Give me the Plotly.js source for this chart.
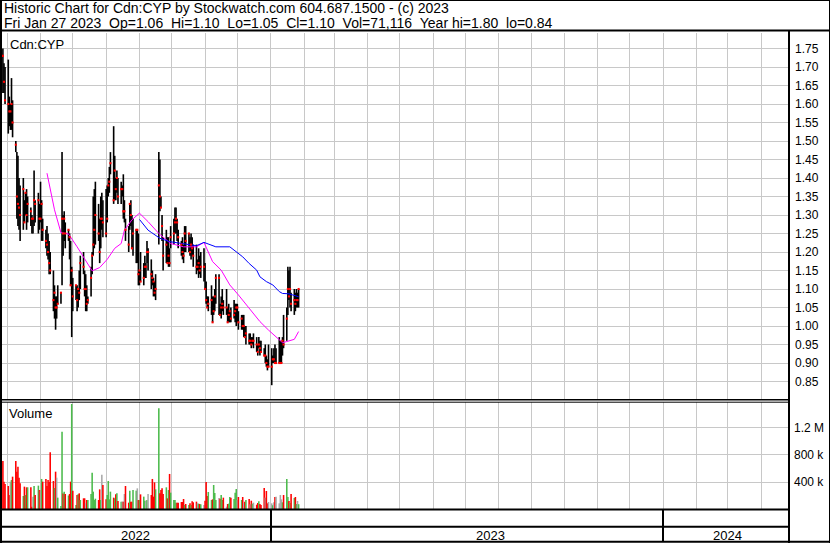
<!DOCTYPE html>
<html>
<head>
<meta charset="utf-8">
<script src="https://cdn.plot.ly/plotly-3.0.1.min.js"></script>
<style>
  html, body { margin: 0; padding: 0; background: #ffffff; }
  #chart { width: 830px; height: 543px; }
</style>
</head>
<body>
<div id="chart"></div>
<script>
// ---------- DATA ----------
const firstTradingDay = '2022-04-27';   // first bar shown (daily bars, weekdays)

const highs = [
  1.75,1.71,1.70,1.72,1.62,1.60,1.67,1.61,1.50,1.47,1.46,1.40,1.38,1.40,1.34,1.36,1.37,1.35,1.32,1.30,
  1.29,1.42,1.34,1.36,1.33,1.39,1.34,1.29,1.26,1.27,1.25,1.23,1.20,1.15,1.11,1.08,1.08,1.11,1.09,1.47,
  1.30,1.31,1.28,1.26,1.25,1.23,1.16,1.13,1.11,1.11,1.10,1.15,1.19,1.20,1.15,1.14,1.11,1.08,1.16,1.20,
  1.35,1.37,1.39,1.33,
  1.29,1.35,1.36,1.34,1.37,1.38,1.40,1.43,1.47,1.54,1.46,1.40,1.42,1.40,1.39,1.38,1.41,1.34,1.29,1.27,
  1.33,1.34,1.30,1.29,1.26,1.26,1.25,1.15,1.20,1.17,1.19,1.17,1.23,1.21,1.18,1.15,1.13,1.12,1.14,1.47,
  1.45,1.35,1.30,1.24,1.26,1.24,1.24,1.21,1.27,1.29,1.32,1.32,1.29,1.26,1.23,1.24,1.22,1.27,1.27,1.25,
  1.24,1.25,1.24,1.22,1.22,1.18,1.21,1.19,1.20,
  1.21,1.17,1.12,1.08,1.08,1.11,1.08,1.08,1.10,1.14,1.14,1.06,1.08,1.10,1.07,1.10,1.05,1.06,1.04,1.05,
  1.07,1.06,1.06,1.06,1.04,1.03,1.03,1.03,1.00,1.00,0.98,0.98,0.97,0.97,0.98,0.97,0.95,0.97,0.96,0.96,
  0.94,0.95,0.92,0.91,0.95,0.94,0.92,0.94,0.95,0.94,0.97,0.96,0.96,0.97,1.03,1.05,
  1.16,1.15,1.16,1.09,1.10,1.09,1.10,1.09,1.10
];
const lows = [
  1.63,1.63,1.60,1.52,1.54,1.53,1.53,1.51,1.47,1.29,1.27,1.26,1.23,1.26,1.28,1.30,1.26,1.28,1.27,1.25,
  1.25,1.27,1.28,1.25,1.26,1.28,1.23,1.23,1.21,1.19,1.18,1.14,1.14,1.04,1.02,0.99,1.02,1.06,1.06,1.11,
  1.19,1.23,1.21,1.23,1.18,1.11,0.97,1.04,1.07,1.04,1.05,1.07,1.10,1.14,1.08,1.04,1.04,1.06,1.08,1.14,
  1.19,1.21,1.22,1.23,
  1.17,1.21,1.26,1.24,1.24,1.28,1.35,1.36,1.41,1.33,1.34,1.34,1.36,1.33,1.33,1.35,1.29,1.28,1.23,1.20,
  1.26,1.27,1.21,1.19,1.17,1.17,1.11,1.11,1.12,1.11,1.13,1.13,1.17,1.15,1.10,1.11,1.08,1.08,1.07,1.22,
  1.31,1.32,1.23,1.15,1.17,1.17,1.16,1.16,1.21,1.22,1.25,1.25,1.23,1.21,1.19,1.18,1.17,1.20,1.20,1.20,
  1.19,1.18,1.19,1.16,1.14,1.15,1.13,1.14,1.13,
  1.12,1.10,1.06,1.05,1.04,1.03,1.01,1.03,1.04,1.06,1.03,1.03,1.02,1.04,1.03,1.03,1.01,1.01,1.01,1.01,
  1.02,1.01,1.00,1.01,0.99,0.99,0.99,0.97,0.97,0.95,0.95,0.95,0.94,0.95,0.94,0.93,0.92,0.94,0.92,0.93,
  0.92,0.90,0.89,0.88,0.89,0.84,0.90,0.90,0.90,0.90,0.90,0.90,0.90,0.92,0.94,0.96,
  1.03,1.07,1.05,1.04,1.03,1.04,1.05,1.05,1.05
];
const closes = [
  1.73,1.66,1.61,1.60,1.58,1.58,1.60,1.55,1.49,1.35,1.33,1.32,1.30,1.37,1.28,1.36,1.30,1.33,1.31,1.29,
  1.29,1.34,1.33,1.34,1.29,1.29,1.33,1.26,1.23,1.22,1.20,1.17,1.15,1.07,1.09,1.05,1.05,1.06,1.09,1.29,
  1.25,1.29,1.25,1.26,1.24,1.11,1.15,1.08,1.11,1.07,1.10,1.09,1.17,1.16,1.10,1.10,1.06,1.07,1.13,1.19,
  1.22,1.26,1.30,1.25,
  1.20,1.29,1.29,1.28,1.25,1.29,1.38,1.39,1.44,1.34,1.42,1.37,1.40,1.35,1.37,1.37,1.31,1.31,1.26,1.22,
  1.33,1.30,1.21,1.25,1.26,1.26,1.14,1.15,1.12,1.13,1.16,1.16,1.20,1.20,1.14,1.13,1.12,1.09,1.10,1.38,
  1.35,1.32,1.27,1.19,1.22,1.17,1.19,1.17,1.24,1.25,1.28,1.29,1.28,1.24,1.22,1.20,1.19,1.25,1.23,1.25,
  1.20,1.22,1.21,1.19,1.16,1.16,1.17,1.15,1.16,
  1.16,1.10,1.07,1.05,1.06,1.07,1.01,1.04,1.08,1.13,1.13,1.03,1.05,1.06,1.05,1.05,1.01,1.03,1.04,1.02,
  1.03,1.04,1.05,1.05,1.01,1.02,1.00,1.00,0.97,0.98,0.96,0.96,0.95,0.96,0.96,0.95,0.93,0.95,0.94,0.93,
  0.92,0.92,0.90,0.89,0.89,0.89,0.91,0.91,0.90,0.90,0.90,0.90,0.90,0.96,0.95,1.02,
  1.10,1.08,1.10,1.06,1.07,1.06,1.07,1.07,1.10
];
// daily volume, thousands of shares
const volumeK = [
  711,405,370,341,207,405,430,479,711,553,627,464,380,193,331,207,321,321,321,35,
  183,341,207,346,281,272,445,405,445,341,430,400,840,415,311,553,464,168,44,1146,
  230,257,222,200,222,405,1556,272,59,207,217,232,133,158,158,84,133,133,222,538,
  257,133,153,133,291,133,509,356,143,207,415,143,257,168,158,217,232,120,109,109,
  109,222,341,94,272,109,109,281,272,306,133,133,217,183,123,123,133,222,207,445,
  183,395,291,1491,232,281,306,222,321,158,281,519,242,133,133,94,94,
  94,104,104,148,59,74,59,84,59,114,99,109,84,79,74,69,59,123,400,193,
  252,133,143,356,237,133,163,153,207,133,168,35,74,79,178,168,148,242,296,133,
  178,133,178,89,109,133,148,69,123,79,94,64,89,114,74,59,311,168,267,84,
  104,84,54,99,178,183,84,207,143,99,207,445,178,119,89,222,163,178,74,119,71
];

// moving averages
const maPinkDates = ['2022-06-07','2022-06-10','2022-06-14','2022-06-20','2022-06-27','2022-07-05','2022-07-12',
  '2022-07-19','2022-07-26','2022-08-02','2022-08-09','2022-08-15','2022-08-18','2022-08-25','2022-09-01',
  '2022-09-09','2022-09-19','2022-09-30','2022-10-12','2022-10-24','2022-10-31','2022-11-03','2022-11-08',
  '2022-11-16','2022-11-24','2022-12-02','2022-12-12','2022-12-22','2022-12-30','2023-01-06','2023-01-12',
  '2023-01-16','2023-01-23','2023-01-27'];
const maPinkVals = [1.413,1.368,1.314,1.252,1.249,1.214,1.183,1.149,1.158,1.180,1.210,1.223,1.259,1.287,1.305,
  1.282,1.250,1.223,1.214,1.214,1.226,1.205,1.174,1.151,1.111,1.084,1.048,1.012,0.989,0.971,0.955,0.958,0.964,0.985];
const maBlueDates = ['2022-09-01','2022-09-09','2022-09-12','2022-09-20','2022-09-29','2022-10-11','2022-10-24',
  '2022-10-31','2022-11-11','2022-11-24','2022-11-30','2022-12-06','2022-12-12','2022-12-19','2022-12-22',
  '2022-12-28','2023-01-03','2023-01-09','2023-01-12','2023-01-18','2023-01-27'];
const maBlueVals = [1.288,1.259,1.253,1.237,1.228,1.222,1.217,1.226,1.214,1.214,1.201,1.187,1.169,1.151,1.133,
  1.120,1.111,1.093,1.088,1.087,1.079];

const priceTickFormat = '.2f';
const volTickVals = [400, 800, 1200];
const volTickText = ['400 k', '800 k', '1.2 M'];
const yearLabels = ['2022', '2023', '2024'];
const headerLine1 = 'Historic Chart for Cdn:CYP by Stockwatch.com 604.687.1500 - (c) 2023';
const headerLine2 = 'Fri Jan 27 2023  Op=1.06  Hi=1.10  Lo=1.05  Cl=1.10  Vol=71,116  Year hi=1.80  lo=0.84';
const symbolLabel = 'Cdn:CYP';

// ---------- BUILD ----------
function weekdays(start, n) {
  const out = [];
  const d = new Date(start + 'T00:00:00Z');
  while (out.length < n) {
    const w = d.getUTCDay();
    if (w !== 0 && w !== 6) out.push(d.toISOString().slice(0, 10));
    d.setUTCDate(d.getUTCDate() + 1);
  }
  return out;
}
const dates = weekdays(firstTradingDay, closes.length);
const ranges = highs.map((h, i) => h - lows[i]);
const volColors = closes.map((c, i) => {
  if (i === 0) return '#ff0000';
  if (c > closes[i - 1]) return '#4cbb4c';
  if (c < closes[i - 1]) return '#ff0000';
  return '#a9a9a9';
});
const DAY = 86400000;

// pixel helpers for page decorations
const W = 830, H = 543, ML = 2, MR = 42, MT = 33, MB = 2;
const PW = W - ML - MR, PH = H - MT - MB;
const px = x => (x - ML) / PW;
const py = y => (H - MB - y) / PH;

const font = 'Liberation Sans, Arial, sans-serif';

const traces = [
  { type: 'bar', x: dates, y: ranges, base: lows, xaxis: 'x', yaxis: 'y',
    width: 1.5 * DAY, marker: { color: '#000000', line: { width: 0 } }, hoverinfo: 'x' },
  { type: 'scatter', mode: 'lines', x: maPinkDates, y: maPinkVals, xaxis: 'x', yaxis: 'y',
    line: { color: '#ff00ff', width: 1 }, hoverinfo: 'skip' },
  { type: 'scatter', mode: 'lines', x: maBlueDates, y: maBlueVals, xaxis: 'x', yaxis: 'y',
    line: { color: '#0000ff', width: 1 }, hoverinfo: 'skip' },
  { type: 'scatter', mode: 'markers', x: dates, y: closes, xaxis: 'x', yaxis: 'y',
    marker: { symbol: 'square', size: 2.1, color: '#ff0000', line: { width: 0 } } },
  { type: 'bar', x: dates, y: volumeK, xaxis: 'x2', yaxis: 'y2',
    width: 1.45 * DAY, marker: { color: volColors, line: { width: 0 } } },
  { type: 'scatter', mode: 'markers', x: [], y: [], xaxis: 'x3', yaxis: 'y3', hoverinfo: 'skip' }
];

const xCommon = {
  type: 'date', range: ['2022-04-26 04:00', '2024-04-26 02:00'],
  showticklabels: false, ticks: '', zeroline: false, showline: false,
  showgrid: true, gridcolor: '#c8c8c8', gridwidth: 1, dtick: 'M1', tick0: '2022-05-01', fixedrange: true
};

const shapes = [];
function hline(y, x0, x1, w) {
  shapes.push({ type: 'line', xref: 'paper', yref: 'paper', x0: px(x0), x1: px(x1), y0: py(y), y1: py(y),
    line: { color: '#000000', width: w }, layer: 'above' });
}
function vline(x, y0, y1, w) {
  shapes.push({ type: 'line', xref: 'paper', yref: 'paper', x0: px(x), x1: px(x), y0: py(y0), y1: py(y1),
    line: { color: '#000000', width: w }, layer: 'above' });
}
hline(0.5, 0, 830, 1);
hline(30.5, 0, 830, 2);
hline(399.8, 0, 789, 1.4);
hline(402.2, 0, 789, 1);
hline(509.5, 0, 789, 2);
hline(526.7, 0, 789, 2);
hline(541.8, 0, 830, 2);
vline(1, 0, 543, 2);
vline(789, 30, 543, 2);
vline(829.5, 0, 543, 1);

const ann = (text, x, y, anchor, size) => ({
  text, xref: 'paper', yref: 'paper', x: px(x), y: py(y), xanchor: anchor, yanchor: 'middle',
  showarrow: false, borderpad: 0, font: { family: font, size, color: '#000000' }
});
const nb = s => s.replace(/  /g, ' \u00a0');

const layout = {
  width: W, height: H,
  margin: { l: ML, r: MR, t: MT, b: MB, pad: 0 },
  paper_bgcolor: '#ffffff', plot_bgcolor: '#ffffff',
  showlegend: false, barmode: 'overlay', hovermode: 'closest',
  font: { family: font, size: 12, color: '#000000' },
  xaxis: Object.assign({}, xCommon, { anchor: 'y' }),
  xaxis2: Object.assign({}, xCommon, { anchor: 'y2', matches: 'x' }),
  xaxis3: Object.assign({}, xCommon, { anchor: 'y3', matches: 'x', dtick: 'M12', tick0: '2023-01-01',
    gridcolor: '#000000', gridwidth: 2 }),
  yaxis: {
    domain: [py(399), 1], range: [0.8027, 1.7919], side: 'right', anchor: 'x',
    dtick: 0.05, tick0: 0.85, tickformat: priceTickFormat, ticks: '', ticklabelstandoff: 6,
    showgrid: true, gridcolor: '#c8c8c8', gridwidth: 1, zeroline: false, showline: false, fixedrange: true,
    tickfont: { family: font, size: 12, color: '#000000' }
  },
  yaxis2: {
    domain: [py(509), py(402)], range: [0, 1585], side: 'right', anchor: 'x2',
    tickvals: volTickVals, ticktext: volTickText, ticks: '', ticklabelstandoff: 5,
    showgrid: true, gridcolor: '#c8c8c8', gridwidth: 1, zeroline: false, showline: false, fixedrange: true,
    tickfont: { family: font, size: 12, color: '#000000' }
  },
  yaxis3: {
    domain: [0, py(509)], range: [0, 1], anchor: 'x3', showgrid: false, showticklabels: false,
    zeroline: false, showline: false, ticks: '', fixedrange: true
  },
  shapes,
  annotations: [
    ann(headerLine1, 3, 8, 'left', 14),
    ann(nb(headerLine2), 3, 23, 'left', 14),
    ann(symbolLabel, 9, 45, 'left', 13),
    ann('Volume', 8, 413.5, 'left', 13),
    ann(yearLabels[0], 135, 535, 'center', 13),
    ann(yearLabels[1], 490, 535, 'center', 13),
    ann(yearLabels[2], 727, 535, 'center', 13)
  ]
};

Plotly.newPlot('chart', traces, layout, { staticPlot: true, displayModeBar: false });
</script>
</body>
</html>
